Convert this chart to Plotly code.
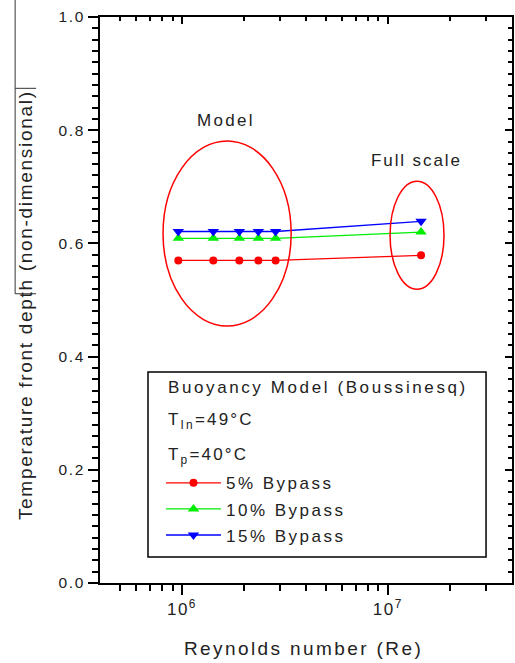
import plotly.graph_objects as go

# Reynolds numbers of the model runs and the full-scale case
re_model = [9.6e5, 1.42e6, 1.9e6, 2.35e6, 2.85e6]
re_full = [1.45e7]

# Non-dimensional temperature front depth for each bypass fraction
depth_5 = [0.570, 0.570, 0.570, 0.570, 0.570, 0.579]
depth_10 = [0.609, 0.609, 0.609, 0.609, 0.609, 0.620]
depth_15 = [0.621, 0.621, 0.621, 0.621, 0.621, 0.639]

series_names = ["5% Bypass", "10% Bypass", "15% Bypass"]
series_colors = ["#ff0000", "#00ee00", "#0000ff"]
series_symbols = ["circle", "triangle-up", "triangle-down"]

y_ticks = [0.0, 0.2, 0.4, 0.6, 0.8, 1.0]
x_major = [1e6, 1e7]
x_major_text = ["10<sup>6</sup>", "10<sup>7</sup>"]
x_minor = [5e5, 6e5, 7e5, 8e5, 9e5,
           2e6, 3e6, 4e6, 5e6, 6e6, 7e6, 8e6, 9e6,
           2e7, 3e7]

FONT = "Liberation Sans, Arial, sans-serif"
TXT = "#222222"


def spaced(s, ls=2.5):
    return f'<span style="letter-spacing:{ls}px">{s}</span>'


re_all = re_model + re_full
fig = go.Figure()
for name, ys, col, sym in zip(series_names, [depth_5, depth_10, depth_15],
                              series_colors, series_symbols):
    fig.add_trace(go.Scatter(
        x=re_all, y=ys, name=spaced(name, 2.5), mode="lines+markers",
        legendgroup=name,
        line=dict(color=col, width=1.3),
        marker=dict(symbol=sym, color=col, size=8 if sym == "circle" else 10,
                    line=dict(width=0)),
    ))

# empty trace so the mirrored top/right frame axes get created
fig.add_trace(go.Scatter(x=[], y=[], xaxis="x2", yaxis="y2",
                         showlegend=False, hoverinfo="skip"))

xrange = [5.602, 7.603]

fig.update_layout(
    width=515, height=663,
    margin=dict(l=100, r=3, t=17, b=80),
    paper_bgcolor="white", plot_bgcolor="white",
    font=dict(family=FONT, size=17, color=TXT),
    showlegend=True,
    legend=dict(x=0.148, y=0.208, xanchor="left", yanchor="top",
                bgcolor="rgba(0,0,0,0)", borderwidth=0,
                font=dict(family=FONT, size=17, color=TXT),
                itemwidth=55, traceorder="grouped", tracegroupgap=1),
    xaxis=dict(type="log", range=xrange, showgrid=False, zeroline=False,
               showline=True, linecolor="black", linewidth=2,
               tickmode="array", tickvals=x_major,
               ticktext=[spaced(t, 1.5) for t in x_major_text],
               ticks="outside", ticklen=10, tickwidth=1.5, tickcolor="black",
               tickfont=dict(family=FONT, size=17, color=TXT),
               minor=dict(tickmode="array", tickvals=x_minor, ticks="outside",
                          ticklen=6, tickwidth=1.5, tickcolor="black",
                          showgrid=False)),
    yaxis=dict(range=[0, 1], showgrid=False, zeroline=False,
               showline=True, linecolor="black", linewidth=2,
               tickmode="array", tickvals=y_ticks,
               ticktext=[spaced(f"{v:.1f}", 1.6) for v in y_ticks],
               ticks="outside", ticklen=10, tickwidth=1.5, tickcolor="black",
               tickfont=dict(family=FONT, size=15.5, color=TXT),
               minor=dict(dtick=0.02, tick0=0, ticks="outside", ticklen=6,
                          tickwidth=1.5, tickcolor="black", showgrid=False)),
    xaxis2=dict(type="log", range=xrange, overlaying="x", side="top",
                anchor="y2", showgrid=False, zeroline=False, showline=True,
                linecolor="black", linewidth=2, showticklabels=False,
                tickmode="array", tickvals=x_major, ticks="inside",
                ticklen=7, tickwidth=1.5, tickcolor="black",
                minor=dict(tickmode="array", tickvals=x_minor, ticks="inside",
                           ticklen=4, tickwidth=1.5, tickcolor="black",
                           showgrid=False)),
    yaxis2=dict(range=[0, 1], overlaying="y", side="right", anchor="x2",
                showgrid=False, zeroline=False, showline=True,
                linecolor="black", linewidth=2, showticklabels=False,
                tickmode="array", tickvals=y_ticks, ticks="inside",
                ticklen=7, tickwidth=1.5, tickcolor="black",
                minor=dict(dtick=0.02, tick0=0, ticks="inside", ticklen=4,
                           tickwidth=1.5, tickcolor="black", showgrid=False)),
)

shapes = [
    # ellipse grouping the model runs
    dict(type="circle", xref="paper", yref="paper",
         x0=0.153, x1=0.464, y0=0.454, y1=0.781,
         line=dict(color="#ff0000", width=1.5)),
    # ellipse around the full-scale case
    dict(type="circle", xref="paper", yref="paper",
         x0=0.704, x1=0.835, y0=0.519, y1=0.710,
         line=dict(color="#ff0000", width=1.5)),
    # legend frame
    dict(type="rect", xref="paper", yref="paper",
         x0=0.1165, x1=0.937, y0=0.046, y1=0.373,
         line=dict(color="black", width=1.5)),
    # bracket beside the y-axis title
    dict(type="path", xref="paper", yref="paper",
         path="M -0.206,1.03 L -0.206,0.511 L -0.155,0.511",
         line=dict(color="#333333", width=1)),
    dict(type="line", xref="paper", yref="paper",
         x0=-0.206, x1=-0.155, y0=0.874, y1=0.874,
         line=dict(color="#333333", width=1)),
]


def note(text, x, y, size=17, xanchor="center"):
    return dict(text=text, x=x, y=y, xref="paper", yref="paper",
                xanchor=xanchor, yanchor="middle", showarrow=False,
                font=dict(family=FONT, size=size, color=TXT))


annotations = [
    note(spaced("Model", 2.3), 0.305, 0.817),
    note(spaced("Full scale", 1.9), 0.769, 0.7456),
    note(spaced("Buoyancy Model (Boussinesq)", 2.6), 0.160, 0.346,
         xanchor="left"),
    note(spaced("T<sub>In</sub>=49°C", 2.2), 0.160, 0.286, xanchor="left"),
    note(spaced("T<sub>p</sub>=40°C", 2.2), 0.160, 0.2244, xanchor="left"),
]

# axis titles
title_x = note(spaced("Reynolds number (Re)", 2.4), 0.495, -0.115, size=19)
title_y = note(spaced("Temperature front depth (non-dimensional)", 1.7),
               -0.182, 0.491, size=19)
title_y["textangle"] = -90
annotations += [title_x, title_y]

fig.update_layout(shapes=shapes, annotations=annotations)
fig.write_html("out.html")
